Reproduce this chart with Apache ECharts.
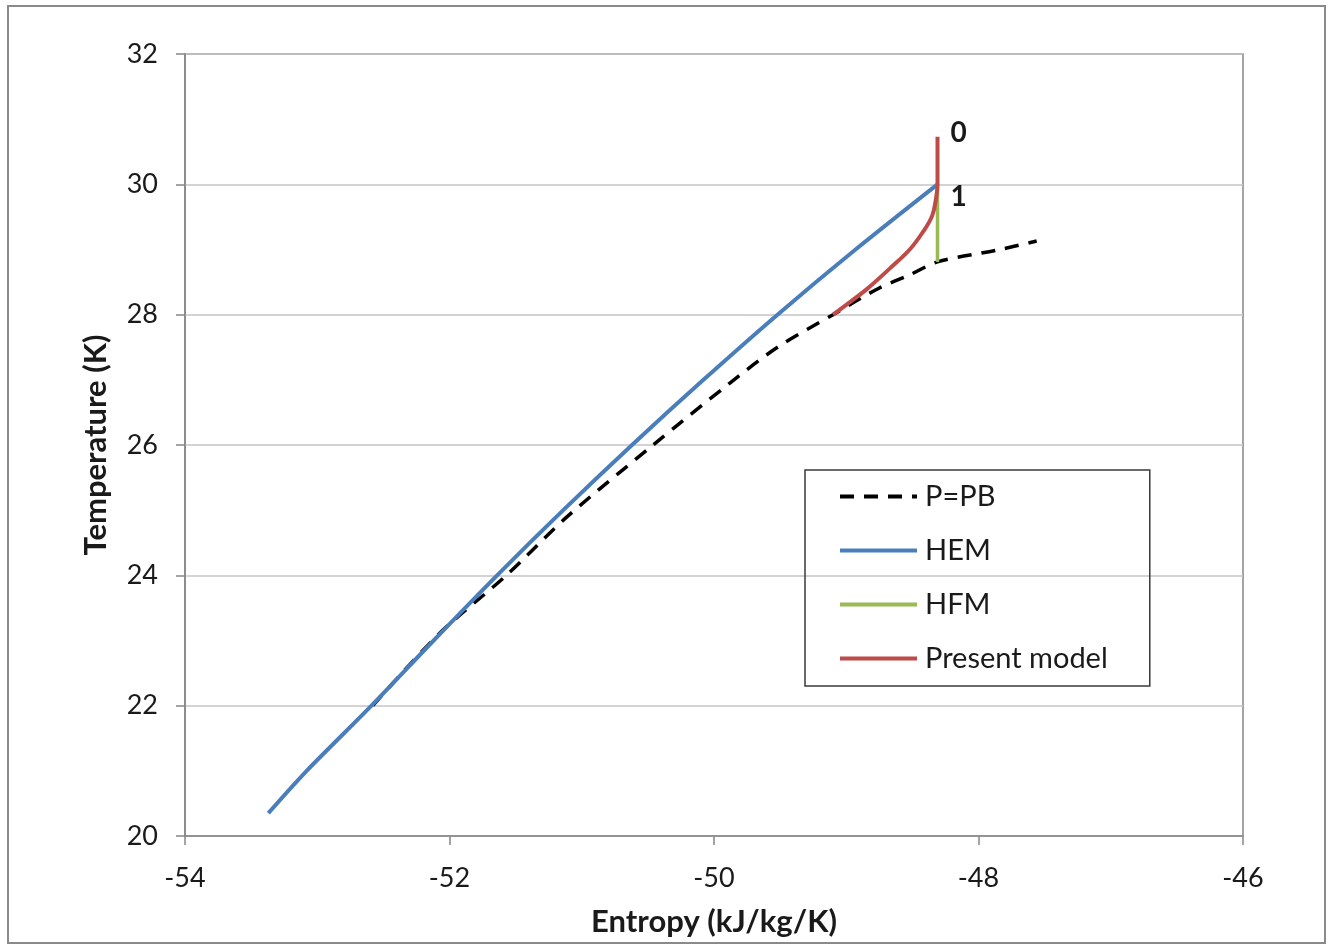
<!DOCTYPE html>
<html>
<head>
<meta charset="utf-8">
<script src="https://cdn.jsdelivr.net/npm/echarts@6/dist/echarts.min.js"></script>
<style>
  html, body { margin: 0; padding: 0; background: #fff; }
  #chart { width: 1332px; height: 946px; }
</style>
</head>
<body>
<div id="chart"></div>
<script>
// entropy (kJ/kg/K), temperature (K) pairs
const pbLine = [
    [-52.58, 22.0], [-52.08, 23.1], [-51.57, 24.0], [-51.11, 24.9], [-50.46, 26.0],
    [-49.88, 26.95], [-49.52, 27.5], [-49.10, 28.0], [-48.75, 28.41], [-48.52, 28.61],
    [-48.31, 28.81], [-47.86, 28.99], [-47.56, 29.13]
];
const hemLine = [
    [-53.37, 20.35], [-53.08, 21.0], [-52.59, 22.0], [-52.12, 23.0], [-51.64, 24.0],
    [-51.14, 25.0], [-50.62, 26.0], [-50.08, 27.0], [-49.52, 28.0], [-48.93, 29.0],
    [-48.31, 30.0]
];
const hfmLine = [[-48.31, 30.0], [-48.31, 28.81]];
const presentLine = [
    [-48.31, 30.73], [-48.31, 30.0], [-48.32, 29.8], [-48.35, 29.52], [-48.42, 29.27],
    [-48.52, 29.0], [-48.67, 28.71], [-48.84, 28.40], [-49.0, 28.15], [-49.10, 28.0]
];
const pointLabels = ['0', '1'];

const chart = echarts.init(document.getElementById('chart'));
const font = 'Lato, "Open Sans", sans-serif';
const axisGray = '#868686';
const gridGray = '#c4c4c4';
const textColor = '#1a1a1a';

const option = {
    animation: false,
    textStyle: { fontFamily: font },
    graphic: [{
        type: 'rect',
        shape: { x: 8, y: 6, width: 1317, height: 937 },
        style: { fill: 'none', stroke: '#8a8a8a', lineWidth: 2 },
        silent: true
    }],
    grid: {
        left: 185, right: 89, top: 54, bottom: 110,
        show: true, borderColor: axisGray, borderWidth: 1.5
    },
    legend: {
        orient: 'vertical',
        left: 805, top: 470,
        padding: [12, 42, 13, 33],
        itemGap: 25,
        itemWidth: 77,
        itemHeight: 12,
        borderColor: '#3a3a3a',
        borderWidth: 1.5,
        itemStyle: { opacity: 0 },
        lineStyle: { width: 4 },
        textStyle: {
            fontFamily: font, fontSize: 29, color: textColor,
            padding: [0, 0, 0, 3]
        },
        data: ['P=PB', 'HEM', 'HFM', 'Present model']
    },
    xAxis: {
        type: 'value',
        min: -54, max: -46, interval: 2,
        name: 'Entropy (kJ/kg/K)',
        nameLocation: 'middle',
        nameGap: 70,
        nameTextStyle: { fontFamily: font, fontSize: 31, fontWeight: 'bold', color: textColor },
        axisLine: { show: true, lineStyle: { color: axisGray, width: 1.5 } },
        axisTick: { show: true, inside: false, length: 9, lineStyle: { color: axisGray, width: 1.5 } },
        axisLabel: { margin: 29, fontSize: 27, color: textColor, fontFamily: font },
        splitLine: { show: false }
    },
    yAxis: {
        type: 'value',
        min: 20, max: 32, interval: 2,
        name: 'Temperature (K)',
        nameLocation: 'middle',
        nameGap: 74,
        nameTextStyle: { fontFamily: font, fontSize: 31, fontWeight: 'bold', color: textColor },
        axisLine: { show: true, lineStyle: { color: axisGray, width: 1.5 } },
        axisTick: { show: true, inside: false, length: 9, lineStyle: { color: axisGray, width: 1.5 } },
        axisLabel: { margin: 27, fontSize: 27, color: textColor, fontFamily: font },
        splitLine: { show: true, lineStyle: { color: gridGray, width: 1.5 } }
    },
    series: [
        {
            name: 'P=PB',
            type: 'line',
            data: pbLine,
            smooth: 0.3,
            symbol: 'none',
            lineStyle: { color: '#000', width: 3.5, type: [14, 10] },
            itemStyle: { color: '#000' },
            z: 2
        },
        {
            name: 'HEM',
            type: 'line',
            data: hemLine,
            smooth: 0.3,
            symbol: 'none',
            lineStyle: { color: '#4a7ebb', width: 4 },
            itemStyle: { color: '#4a7ebb' },
            z: 3
        },
        {
            name: 'HFM',
            type: 'line',
            data: hfmLine,
            symbol: 'none',
            lineStyle: { color: '#98b954', width: 3.5 },
            itemStyle: { color: '#98b954' },
            z: 3
        },
        {
            name: 'Present model',
            type: 'line',
            data: presentLine,
            smooth: 0.4,
            symbol: 'none',
            lineStyle: { color: '#be4b48', width: 4 },
            itemStyle: { color: '#be4b48' },
            markPoint: {
                symbol: 'circle',
                symbolSize: 0,
                data: pointLabels.map((t, i) => ({
                    coord: presentLine[i],
                    label: {
                        show: true,
                        position: 'right',
                        formatter: t,
                        fontFamily: font,
                        fontWeight: 'bold',
                        fontSize: 28,
                        color: textColor,
                        offset: i === 0 ? [8, -4] : [8, 13]
                    }
                }))
            },
            z: 4
        }
    ]
};

chart.setOption(option);
</script>
</body>
</html>
